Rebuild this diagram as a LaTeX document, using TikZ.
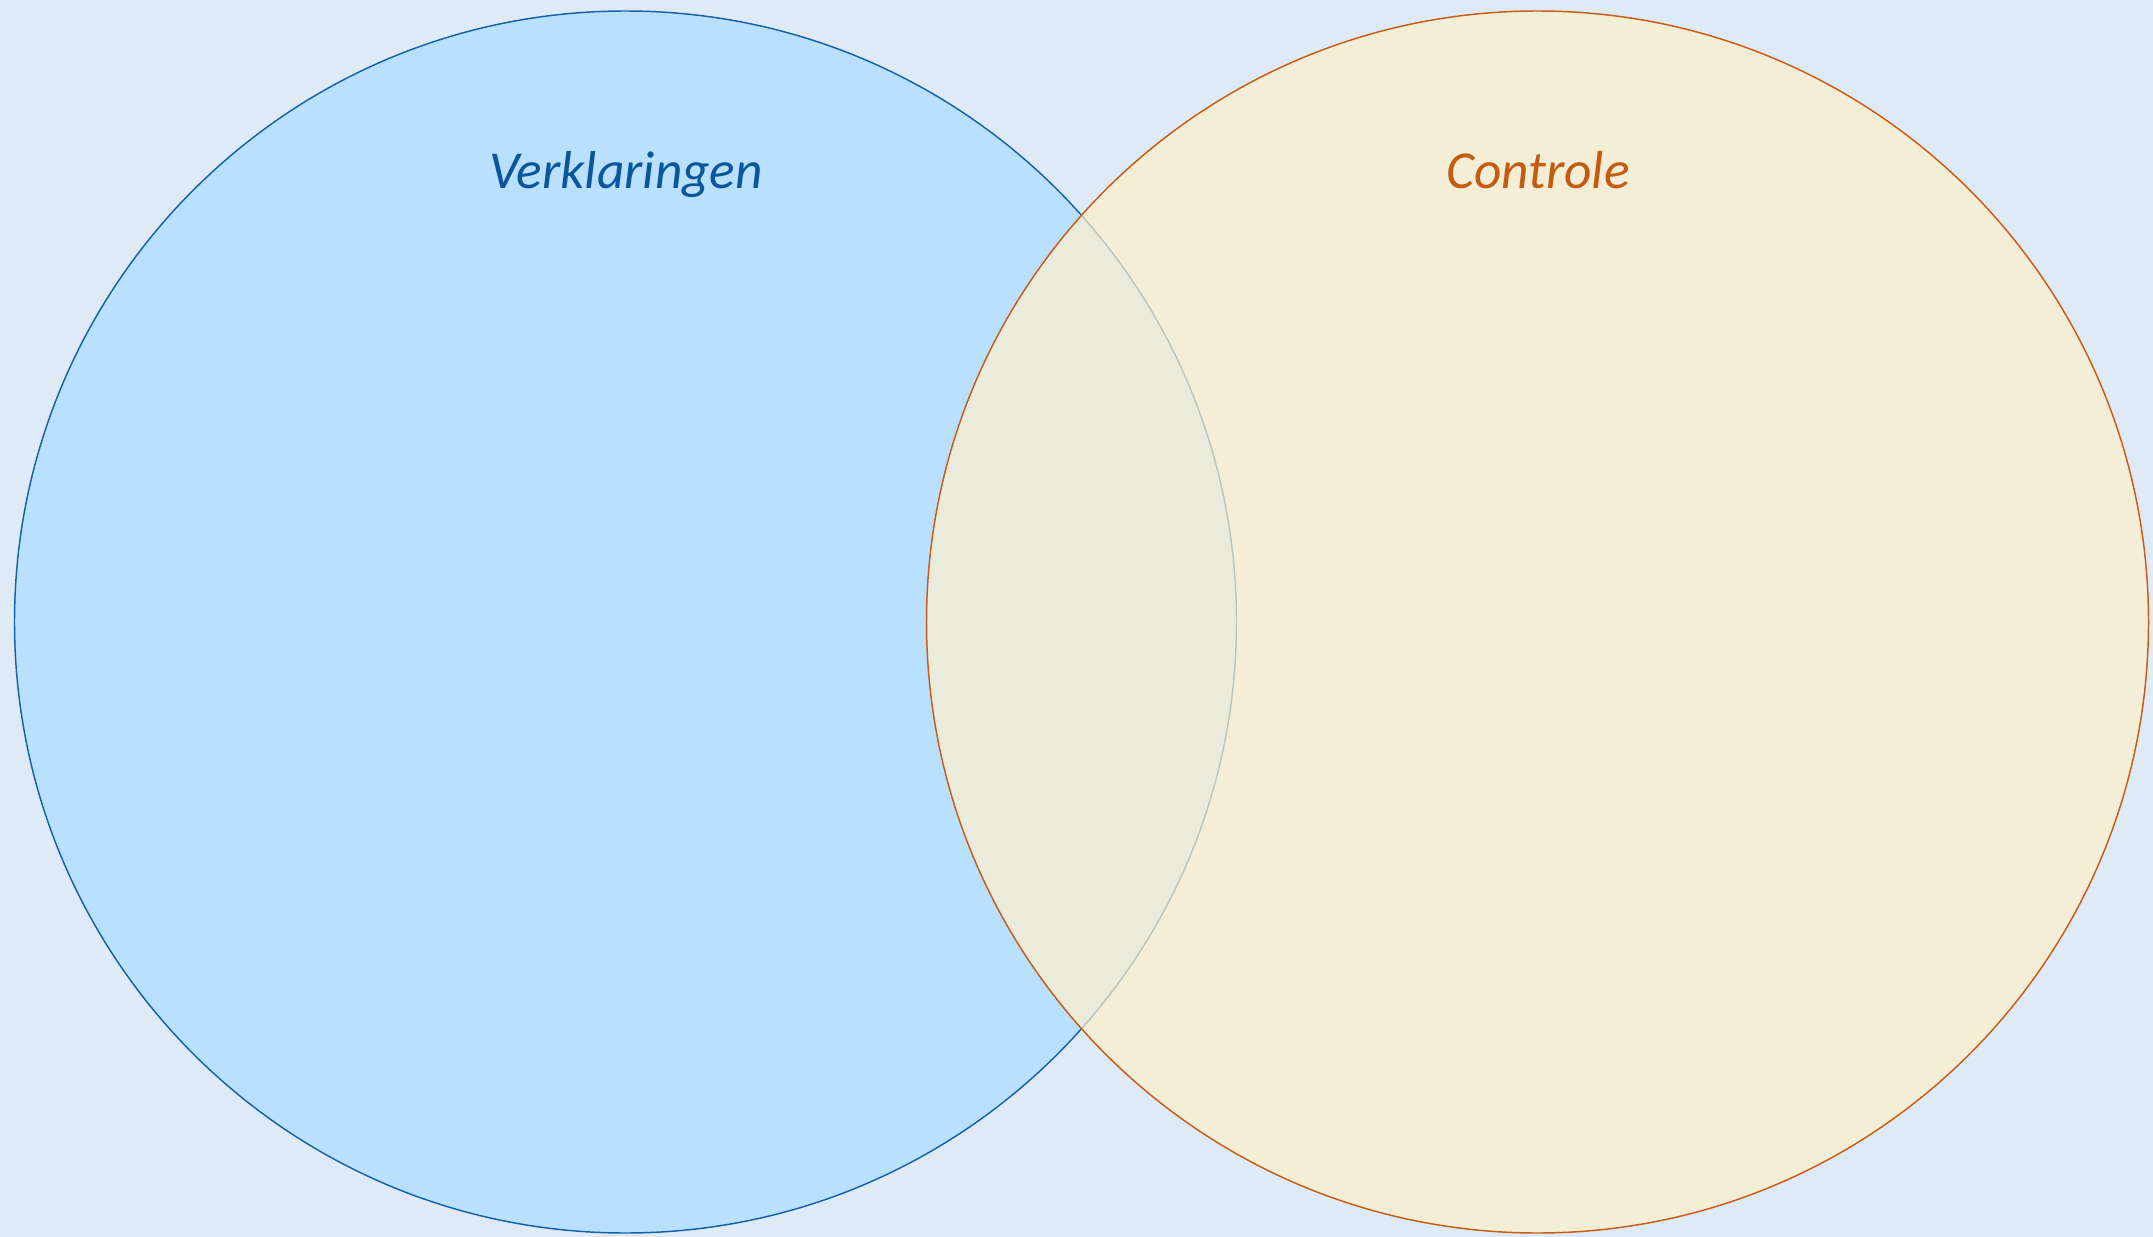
\documentclass[tikz,border=0pt]{standalone}
\usepackage{fontspec}
\setmainfont{Carlito}
\definecolor{bgblue}{RGB}{222,234,246}
\definecolor{leftfill}{RGB}{185,224,255}
\definecolor{leftline}{RGB}{22,98,168}
\definecolor{rightfill}{RGB}{255,241,203}
\definecolor{rightline}{RGB}{201,92,22}
\definecolor{lefttext}{RGB}{10,86,158}
\definecolor{righttext}{RGB}{197,90,17}
\tikzset{every picture/.style={line width=0.75pt}}
\tikzset{setlabel/.style={anchor=base,inner sep=0.75pt,font=\fontsize{40}{46}\selectfont\itshape}}

\begin{document}
\begin{tikzpicture}[x=0.75pt,y=0.75pt,yscale=-1,xscale=1]
    %background, sets the size of the picture
    \fill[bgblue] (0,0) rectangle (2153,1237);
    \useasboundingbox (0,0) rectangle (2153,1237);

    %Shape: Circle [left set]
    \draw [color=leftline, fill=leftfill, line width=1.1pt] (625.5,622) circle [radius=611];

    %Shape: Circle [right set]
    \draw [color=rightline, fill=rightfill, fill opacity=0.7, line width=1.1pt] (1537.5,622) circle [radius=611];

    % Text Node
    \node [setlabel, text=lefttext] (verkl) at (626,189) {Verklaringen};
    % Text Node
    \node [setlabel, text=righttext] (contr) at (1538,189) {Controle};
\end{tikzpicture}
\end{document}
